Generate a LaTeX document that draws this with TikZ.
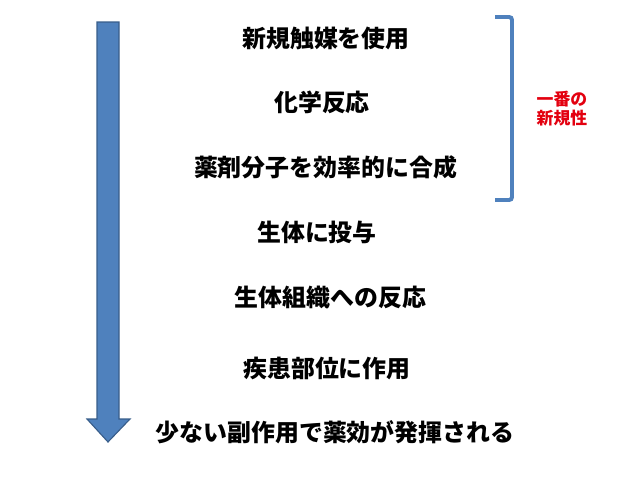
\documentclass[tikz,border=0pt]{standalone}
\usepackage{fontspec}
\usepackage{tikz}
\usetikzlibrary{positioning}
\newfontfamily\jpfont{Noto Sans CJK JP}
\definecolor{Blue}{HTML}{4F81BD}
\definecolor{BlueDark}{HTML}{385D8A}
\definecolor{Red}{HTML}{E3000F}
\tikzset{
  stepnode/.style={inner sep=0pt,font=\jpfont\bfseries\fontsize{17}{20}\selectfont},
  notenode/.style={inner sep=0pt,align=center,text=Red,
    font=\jpfont\bfseries\fontsize{12}{13.6}\selectfont}
}

\begin{document}
\begin{tikzpicture}[x=0.025cm,y=-0.025cm]
    \useasboundingbox (0,0) rectangle (640,480);
    % flow arrow
    \filldraw[fill=Blue,draw=BlueDark,line width=0.8pt]
      (97,22) -- (119,22) -- (119,419) -- (130,419) -- (108,442)
      -- (87,419) -- (97,419) -- cycle;
    % steps
    \node[stepnode] (catalyst) at (326,38) {新規触媒を使用};
    \node[stepnode] (reaction) at (322,102) {化学反応};
    \node[stepnode] (synth) at (325.5,167) {薬剤分子を効率的に合成};
    \node[stepnode] (dose) at (317,232) {生体に投与};
    \node[stepnode] (tissue) at (330.5,297) {生体組織への反応};
    \node[stepnode] (site) at (327,368) {疾患部位に作用};
    \node[stepnode] (effect) at (335,432) {少ない副作用で薬効が発揮される};
    % bracket and note
    \coordinate (brtop) at (512,17);
    \coordinate (brbot) at (512,200);
    \draw[Blue,line width=2.8pt,rounded corners=2pt]
      ([xshift=-12]brtop) -- (brtop) -- (brbot) -- ([xshift=-12]brbot);
    \node[notenode] (novelty) at (562,108.5) {一番の\\新規性};
  \end{tikzpicture}
\end{document}
